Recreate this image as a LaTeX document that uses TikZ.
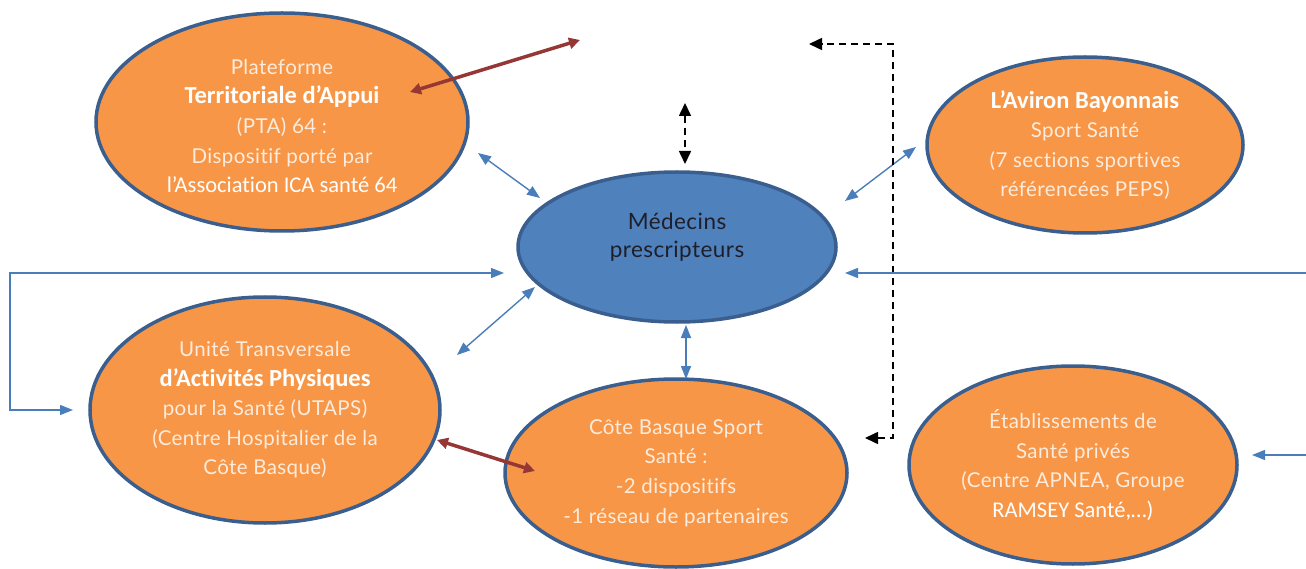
\documentclass[tikz,border=0pt]{standalone}
\usepackage{fontspec}
\setmainfont{Lato}[LetterSpace=2,Ligatures=NoCommon]
\newfontfamily\calib{Carlito}[Ligatures=NoCommon]
\usetikzlibrary{arrows.meta,shapes.geometric}
\definecolor{orng}{HTML}{F79646}
\definecolor{edgeblue}{HTML}{3A5F8E}
\definecolor{medblue}{HTML}{4F81BD}
\definecolor{linkblue}{HTML}{4A7EBB}
\definecolor{linkred}{HTML}{953735}
\definecolor{lighttext}{HTML}{FDEBDD}
\definecolor{darktext}{HTML}{1F1F2A}
\tikzset{
  oval/.style={ellipse, draw=edgeblue, line width=3.5pt, fill=orng, inner sep=0pt,
    align=center, text=lighttext, font=\fontsize{20.5}{29.6}\selectfont},
  ovaltext/.style={align=center, text=lighttext, inner sep=0pt, font=\fontsize{20.5}{29.6}\selectfont},
  medoval/.style={ellipse, draw=edgeblue, line width=3.5pt, fill=medblue, inner sep=0pt},
  medtext/.style={align=center, text=darktext, font=\fontsize{22.5}{28.5}\selectfont},
  bluelink/.style={draw=linkblue, line width=1.4pt, {Triangle[length=13pt,width=10pt]}-{Triangle[length=13pt,width=10pt]}},
  bluesingle/.style={draw=linkblue, line width=1.4pt, -{Triangle[length=13pt,width=10pt]}},
  redlink/.style={draw=linkred, line width=3.5pt, {Triangle[length=11pt,width=11pt]}-{Triangle[length=11pt,width=11pt]}},
  blacklink/.style={draw=black, line width=1.6pt, dash pattern=on 7pt off 5pt, {Triangle[length=13pt,width=12pt]}-{Triangle[length=13pt,width=12pt]}}
}
\newcommand{\bw}[1]{{\calib\bfseries\fontsize{24.5}{29.6}\selectfont\color{white}#1}}
\newcommand{\rw}[1]{{\calib\fontsize{22.5}{29.6}\selectfont\color{white}#1}}
\begin{document}
\begin{tikzpicture}[x=1pt,y=-1pt]
\useasboundingbox (0,0) rectangle (1306,569);
% ellipses
\node[oval, minimum width=372pt, minimum height=218pt] (pta) at (282,122) {};
\node[ovaltext] (ptatxt) at (282,126)
  {Plateforme\\\bw{Territoriale d’Appui}\\(PTA) 64 :\\Dispositif porté par\\\rw{l’Association ICA santé 64}};
\node[medoval, minimum width=318pt, minimum height=150pt] (med) at (677,247) {};
\node[medtext] (medtxt) at (677,237) {Médecins\\prescripteurs};
\node[oval, minimum width=316pt, minimum height=176pt] (avi) at (1085,145)
  {\bw{L’Aviron Bayonnais}\\Sport Santé\\(7 sections sportives\\référencées PEPS)};
\node[oval, minimum width=350pt, minimum height=226pt] (uta) at (265,410)
  {Unité Transversale\\\bw{d’Activités Physiques}\\pour la Santé (UTAPS)\\(Centre Hospitalier de la\\Côte Basque)};
\node[oval, minimum width=342pt, minimum height=188pt] (cbs) at (676,473)
  {Côte Basque Sport\\Santé :\\-2 dispositifs\\-1 réseau de partenaires};
\node[oval, minimum width=328pt, minimum height=198pt] (eta) at (1073,465)
  {Établissements de\\Santé privés\\(Centre APNEA, Groupe\\\rw{RAMSEY Santé,…)}};
% connector end points
\coordinate (r1a) at (410,92);   \coordinate (r1b) at (580,40);
\coordinate (r2a) at (437,440);  \coordinate (r2b) at (535,471);
\coordinate (b1a) at (478,153);  \coordinate (b1b) at (540,198);
\coordinate (b2a) at (845,201);  \coordinate (b2b) at (916,147);
\coordinate (b3a) at (457,355);  \coordinate (b3b) at (535,287);
\coordinate (b4a) at (686,325);  \coordinate (b4b) at (686,379);
\coordinate (k1a) at (685,103);  \coordinate (k1b) at (685,164);
\coordinate (d1) at (865,438);   \coordinate (d2) at (893,438);
\coordinate (d3) at (893,44);    \coordinate (d4) at (809,44);
\coordinate (l1) at (73,410);    \coordinate (l2) at (10,410);
\coordinate (l3) at (10,273);    \coordinate (l4) at (504,273);
\coordinate (rr1) at (1306,273); \coordinate (rr2) at (845,273);
\coordinate (e1) at (1306,455);  \coordinate (e2) at (1252,455);
% connectors
\draw[redlink] (r1a) -- (r1b);
\draw[redlink] (r2a) -- (r2b);
\draw[bluelink] (b1a) -- (b1b);
\draw[bluelink] (b2a) -- (b2b);
\draw[bluelink] (b3a) -- (b3b);
\draw[bluelink] (b4a) -- (b4b);
\draw[blacklink] (k1a) -- (k1b);
\draw[blacklink] (d1) -- (d2) -- (d3) -- (d4);
\draw[bluelink] (l1) -- (l2) -- (l3) -- (l4);
\draw[bluesingle] (rr1) -- (rr2);
\draw[bluesingle] (e1) -- (e2);
\end{tikzpicture}
\end{document}
